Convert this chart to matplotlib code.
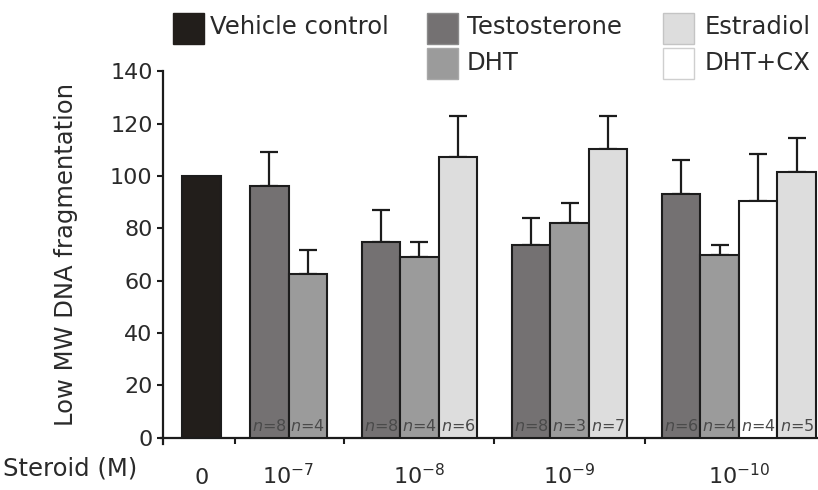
import numpy as np
import matplotlib
matplotlib.use("Agg")
import matplotlib.pyplot as plt
from matplotlib.patches import Rectangle
from matplotlib.transforms import blended_transform_factory

# ---------------- data ----------------
dose_labels = ["0", r"$10^{-7}$", r"$10^{-8}$", r"$10^{-9}$", r"$10^{-10}$"]
vehicle_mean = 100.0

# values for doses 1e-7, 1e-8, 1e-9, 1e-10 (nan = not tested)
testosterone_mean = [96.0, 74.7, 73.5, 93.3]
testosterone_sem = [13.0, 12.3, 10.3, 13.0]
testosterone_n = [8, 8, 8, 6]

dht_mean = [62.5, 69.0, 81.9, 69.7]
dht_sem = [9.1, 5.7, 7.6, 3.8]
dht_n = [4, 4, 3, 4]

dhtcx_mean = [np.nan, np.nan, np.nan, 90.3]
dhtcx_sem = [np.nan, np.nan, np.nan, 18.3]
dhtcx_n = [np.nan, np.nan, np.nan, 4]

estradiol_mean = [np.nan, 107.4, 110.5, 101.7]
estradiol_sem = [np.nan, 15.6, 12.5, 13.0]
estradiol_n = [np.nan, 6, 7, 5]

series_names = ["Vehicle control", "Testosterone", "DHT", "Estradiol", "DHT+CX"]
colors = {"Vehicle control": "#221e1b", "Testosterone": "#747172",
          "DHT": "#9b9b9b", "Estradiol": "#dddddd", "DHT+CX": "#ffffff"}

# bar order within each dose group
order = [("Testosterone", testosterone_mean, testosterone_sem, testosterone_n),
         ("DHT", dht_mean, dht_sem, dht_n),
         ("DHT+CX", dhtcx_mean, dhtcx_sem, dhtcx_n),
         ("Estradiol", estradiol_mean, estradiol_sem, estradiol_n)]

# ---------------- figure ----------------
plt.rcParams["font.family"] = ["DejaVu Sans"]
W, H = 818, 490
fig = plt.figure(figsize=(W / 100, H / 100), dpi=100)
ax_left, ax_bottom_px, ax_top_px = 163, 437.5, 71.4
ax = fig.add_axes([ax_left / W, (H - ax_bottom_px) / H, (W - ax_left) / W,
                   (ax_bottom_px - ax_top_px) / H])

edge = "#1c1c1c"
txt = "#2a2a2a"
bw = 1.0
first_gap, gap = 0.76, 0.9

# vehicle bar
x_veh = 1.0
ax.bar(x_veh, vehicle_mean, width=bw, color=colors["Vehicle control"],
       edgecolor=edge, linewidth=1.5, zorder=3)

group_centers = [x_veh]
separators = []
cursor = x_veh + bw / 2
for gi in range(4):
    g = first_gap if gi == 0 else gap
    separators.append(cursor + g / 2)
    left = cursor + g
    xs = []
    for name, means, sems, ns in order:
        m = means[gi]
        if np.isnan(m):
            continue
        xc = left + bw / 2 + len(xs) * bw
        xs.append(xc)
        ax.errorbar(xc, m, yerr=[[0], [sems[gi]]], fmt="none", ecolor=edge,
                    elinewidth=1.6, capsize=6.8, capthick=1.6, zorder=2)
        ax.bar(xc, m, width=bw, color=colors[name], edgecolor=edge,
               linewidth=1.5, zorder=3)
        ax.annotate(r"$\it{n}$" + "={}".format(int(ns[gi])), (xc, 0),
                    xytext=(0, 2.5), textcoords="offset points",
                    ha="center", va="bottom", fontsize=11.5, color="#4a4a4a",
                    zorder=4)
    group_centers.append(np.mean(xs))
    cursor = xs[-1] + bw / 2

xmax = (W - ax_left) / 38.5
ax.set_xlim(0, xmax)
ax.set_ylim(0, 140)

# axes styling
for s in ["top", "right"]:
    ax.spines[s].set_visible(False)
for s in ["left", "bottom"]:
    ax.spines[s].set_linewidth(1.6)
    ax.spines[s].set_color(edge)
ax.spines["left"].set_bounds(-2.6, 140)
ax.spines["bottom"].set_bounds(-0.04, xmax)

ax.set_yticks(np.arange(0, 141, 20))
ax.tick_params(axis="y", length=4.5, width=1.5, color=edge, labelsize=16,
               labelcolor=txt, pad=3)
ax.set_xticks([])
ax.set_xticks(separators, minor=True)
ax.tick_params(axis="x", which="minor", length=4.5, width=1.5, color=edge,
               direction="out")

# dose labels
trans = blended_transform_factory(ax.transData, ax.transAxes)
base_y = -(484 - ax_bottom_px) / (ax_bottom_px - ax_top_px)
for xc, lab in zip(group_centers, dose_labels):
    ax.text(xc, base_y, lab, transform=trans, ha="center", va="baseline",
            fontsize=16, color=txt)
fig.text(3 / W, 1 - 475 / H, "Steroid (M)", ha="left", va="baseline",
         fontsize=17.5, color=txt)

ax.set_ylabel("Low MW DNA fragmentation", fontsize=17.5, color=txt)
ax.yaxis.set_label_coords(-(163 - 78) / (W - ax_left), 0.5)

# legend (manual layout)
sw = 31
def swatch(x, y, name, ec):
    fig.add_artist(Rectangle((x / W, 1 - (y + sw) / H), sw / W, sw / H,
                             transform=fig.transFigure, facecolor=colors[name],
                             edgecolor=ec, linewidth=1.0))
def label(x, yc, s):
    fig.text(x / W, 1 - yc / H, s, ha="left", va="center", fontsize=17.5,
             color=txt)

swatch(173, 13, "Vehicle control", colors["Vehicle control"])
label(210, 27.5, "Vehicle control")
swatch(427, 13, "Testosterone", "#8a8a8a")
label(467, 27.5, "Testosterone")
swatch(427, 48, "DHT", "#a8a8a8")
label(467, 63, "DHT")
swatch(663, 13, "Estradiol", "#c4c4c4")
label(705, 27.5, "Estradiol")
swatch(663, 48, "DHT+CX", "#cfcfcf")
label(705, 63, "DHT+CX")

fig.savefig("out.png", dpi=100)
